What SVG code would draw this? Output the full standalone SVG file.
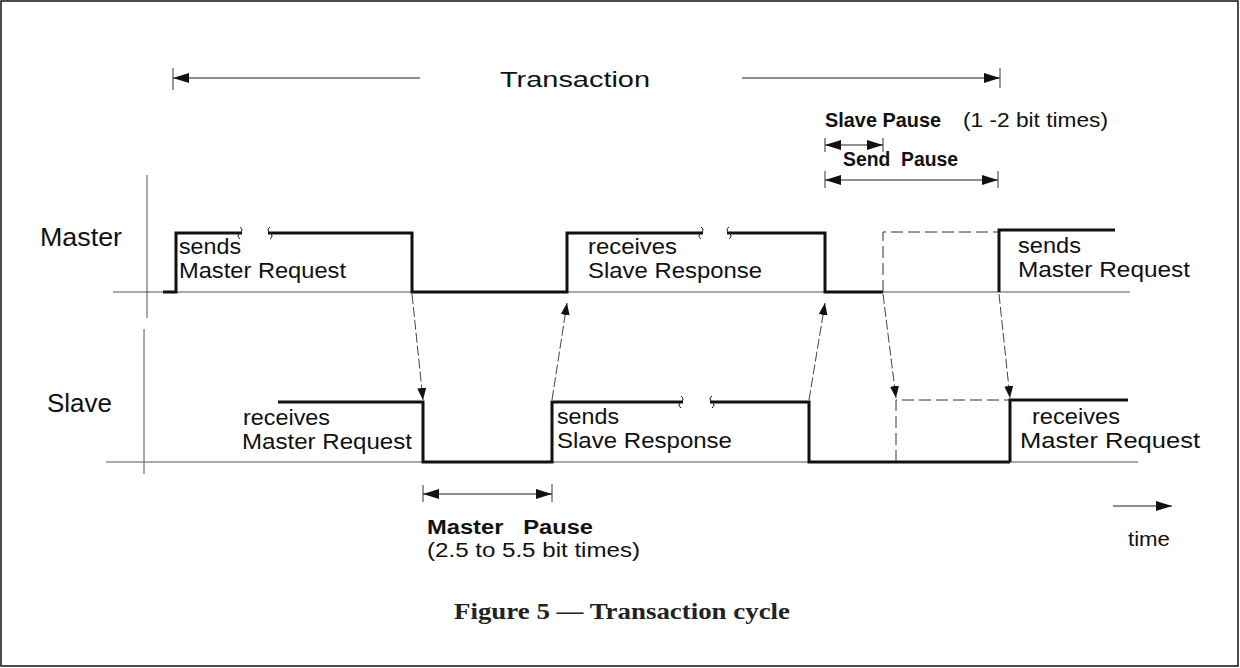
<svg xmlns="http://www.w3.org/2000/svg" width="1240" height="668" viewBox="0 0 1240 668">
<style>
.t{font-family:"Liberation Sans",Arial,sans-serif;fill:#111}
.lbl{font-size:21.5px}
.axis{font-size:26px}
.b{font-weight:bold}
.sig{fill:none;stroke:#111;stroke-width:3;stroke-linejoin:miter}
.dsig{fill:none;stroke:#333;stroke-width:1;stroke-dasharray:12 5}
.base{fill:none;stroke:#555;stroke-width:1}
.dim{fill:none;stroke:#222;stroke-width:1.2}
.tick{fill:none;stroke:#333;stroke-width:1}
.conn{fill:none;stroke:#444;stroke-width:1;stroke-dasharray:10 3}
.brk{fill:none;stroke:#111;stroke-width:1}
</style>
<defs>
<marker id="ah" markerUnits="userSpaceOnUse" markerWidth="16" markerHeight="10" refX="16" refY="5" orient="auto-start-reverse" viewBox="0 0 16 10">
<path d="M0,0 L16,5 L0,10 z" fill="#111"/>
</marker>
<marker id="sh" markerUnits="userSpaceOnUse" markerWidth="12" markerHeight="9" refX="12" refY="4.5" orient="auto" viewBox="0 0 12 9">
<path d="M0,0 L12,4.5 L0,9 z" fill="#111"/>
</marker>
</defs>
<rect x="1" y="1" width="1237" height="665" fill="#fff" stroke="#111" stroke-width="1.5"/>

<g id="axes">
<line class="base" x1="147" y1="175" x2="147" y2="318"/>
<line class="base" x1="144" y1="329" x2="144" y2="474"/>
<line class="base" x1="113" y1="292" x2="1130" y2="292"/>
<line class="base" x1="106" y1="462" x2="1138" y2="462"/>
<text class="t axis" x="40" y="246" textLength="82" lengthAdjust="spacingAndGlyphs">Master</text>
<text class="t axis" x="47" y="412" textLength="65" lengthAdjust="spacingAndGlyphs">Slave</text>
</g>

<g id="transaction">
<line class="tick" x1="173" y1="68" x2="173" y2="90"/>
<line class="dim" x1="420" y1="78" x2="173" y2="78" marker-end="url(#ah)"/>
<line class="dim" x1="742" y1="78" x2="1000" y2="78" marker-end="url(#ah)"/>
<line class="tick" x1="1000" y1="68" x2="1000" y2="88"/>
<text class="t" font-size="22" x="500" y="87" textLength="150" lengthAdjust="spacingAndGlyphs">Transaction</text>
</g>

<g id="slave-pause">
<text class="t b" font-size="20" x="825" y="127" textLength="116" lengthAdjust="spacingAndGlyphs">Slave Pause</text>
<text class="t" font-size="20" x="963" y="127" textLength="145" lengthAdjust="spacingAndGlyphs">(1 -2 bit times)</text>
<line class="tick" x1="825" y1="138" x2="825" y2="152"/>
<line class="tick" x1="883" y1="138" x2="883" y2="152"/>
<line class="dim" x1="825" y1="145" x2="883" y2="145" marker-start="url(#ah)" marker-end="url(#ah)"/>
</g>

<g id="send-pause">
<text class="t b" font-size="20" x="843" y="166" textLength="115" lengthAdjust="spacingAndGlyphs">Send&#160; Pause</text>
<line class="tick" x1="825" y1="171" x2="825" y2="188"/>
<line class="tick" x1="998" y1="171" x2="998" y2="188"/>
<line class="dim" x1="825" y1="180" x2="998" y2="180" marker-start="url(#ah)" marker-end="url(#ah)"/>
</g>

<g id="master-signal">
<path class="sig" d="M163,292 H176 V233 H242"/>
<path class="brk" d="M240,227 q4,3 0,6 q-4,3 0,6"/>
<path class="brk" d="M270,227 q-4,3 0,6 q4,3 0,6"/>
<path class="sig" d="M268,233 H412 V292 H567 V233 H703"/>
<path class="brk" d="M701,227 q4,3 0,6 q-4,3 0,6"/>
<path class="brk" d="M729,227 q-4,3 0,6 q4,3 0,6"/>
<path class="sig" d="M727,233 H825 V292 H883"/>
<path class="dsig" d="M883,292 V232 H999"/>
<path class="sig" d="M999,292 V230 H1115"/>
<text class="t lbl" x="179" y="254" textLength="62" lengthAdjust="spacingAndGlyphs">sends</text>
<text class="t lbl" x="179" y="278" textLength="167" lengthAdjust="spacingAndGlyphs">Master Request</text>
<text class="t lbl" x="588" y="254" textLength="89" lengthAdjust="spacingAndGlyphs">receives</text>
<text class="t lbl" x="588" y="278" textLength="174" lengthAdjust="spacingAndGlyphs">Slave Response</text>
<text class="t lbl" x="1018" y="253" textLength="63" lengthAdjust="spacingAndGlyphs">sends</text>
<text class="t lbl" x="1018" y="277" textLength="172" lengthAdjust="spacingAndGlyphs">Master Request</text>
</g>

<g id="slave-signal">
<path class="sig" d="M278,402 H423 V462 H552 V402 H683"/>
<path class="brk" d="M681,396 q4,3 0,6 q-4,3 0,6"/>
<path class="brk" d="M712,396 q-4,3 0,6 q4,3 0,6"/>
<path class="sig" d="M710,402 H809 V462 H1010"/>
<path class="dsig" d="M896,462 V400 H1010"/>
<path class="sig" d="M1010,462 V400 H1128"/>
<text class="t lbl" x="243" y="425" textLength="87" lengthAdjust="spacingAndGlyphs">receives</text>
<text class="t lbl" x="242" y="449" textLength="170" lengthAdjust="spacingAndGlyphs">Master Request</text>
<text class="t lbl" x="557" y="424" textLength="62" lengthAdjust="spacingAndGlyphs">sends</text>
<text class="t lbl" x="557" y="448" textLength="175" lengthAdjust="spacingAndGlyphs">Slave Response</text>
<text class="t lbl" x="1032" y="424" textLength="88" lengthAdjust="spacingAndGlyphs">receives</text>
<text class="t lbl" x="1020" y="448" textLength="180" lengthAdjust="spacingAndGlyphs">Master Request</text>
</g>

<g id="connectors">
<line class="conn" x1="412" y1="294" x2="423" y2="400" marker-end="url(#sh)"/>
<line class="conn" x1="552" y1="400" x2="567" y2="303" marker-end="url(#sh)"/>
<line class="conn" x1="809" y1="400" x2="825" y2="303" marker-end="url(#sh)"/>
<line class="conn" x1="883" y1="294" x2="896" y2="398" marker-end="url(#sh)"/>
<line class="conn" x1="999" y1="294" x2="1010" y2="398" marker-end="url(#sh)"/>
</g>

<g id="master-pause">
<line class="tick" x1="423" y1="485" x2="423" y2="502"/>
<line class="tick" x1="552" y1="484" x2="552" y2="502"/>
<line class="dim" x1="423" y1="494" x2="552" y2="494" marker-start="url(#ah)" marker-end="url(#ah)"/>
<text class="t b" font-size="20" x="427" y="534" textLength="166" lengthAdjust="spacingAndGlyphs">Master&#160;&#160; Pause</text>
<text class="t" font-size="20" x="427" y="557" textLength="213" lengthAdjust="spacingAndGlyphs">(2.5 to 5.5 bit times)</text>
</g>

<g id="time">
<line class="dim" x1="1113" y1="506" x2="1172" y2="506" marker-end="url(#ah)"/>
<text class="t" font-size="20" x="1128" y="546" textLength="42" lengthAdjust="spacingAndGlyphs">time</text>
</g>

<text x="454" y="619" textLength="336" lengthAdjust="spacingAndGlyphs" font-family="'Liberation Serif','Times New Roman',serif" font-weight="bold" font-size="23" fill="#222">Figure 5 — Transaction cycle</text>
</svg>
